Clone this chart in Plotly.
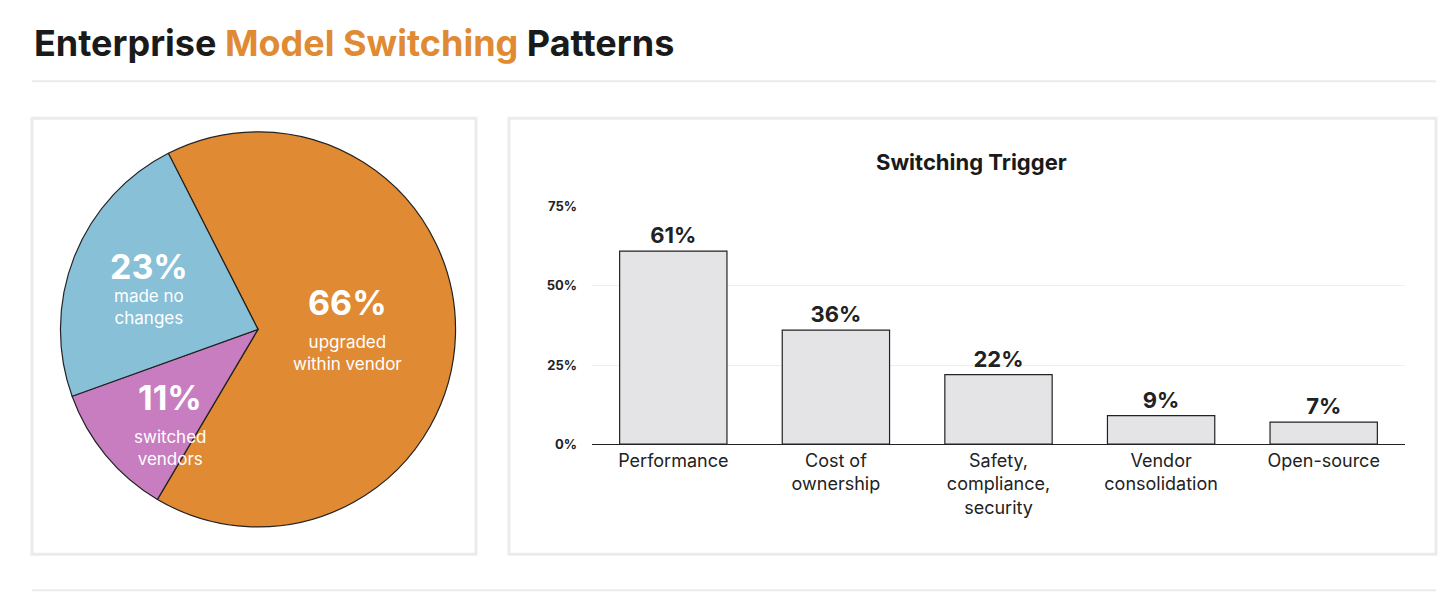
import plotly.graph_objects as go

W, H = 1440, 596
OFF = 8  # body margin of the page

pie_labels = ["upgraded<br>within vendor", "switched<br>vendors", "made no<br>changes"]
pie_values = [66, 11, 23]
pie_colors = ["#E08A33", "#C77DC0", "#88C0D8"]

bar_cats = ["Performance", "Cost of<br>ownership", "Safety,<br>compliance,<br>security",
            "Vendor<br>consolidation", "Open-source"]
bar_vals = [61, 36, 22, 9, 7]
y_ticks = [0, 25, 50, 75]


def px(x):
    return (x - OFF) / W


def py(y):
    return 1 - (y - OFF) / H


fig = go.Figure()

fig.add_trace(go.Pie(
    values=pie_values, labels=pie_labels, sort=False, direction="clockwise",
    rotation=-27, marker=dict(colors=pie_colors, line=dict(color="#222", width=1.2)),
    textinfo="none", hoverinfo="label+percent", showlegend=False,
    domain=dict(x=[px(60), px(456)], y=[py(533), py(127)]),
))

fig.add_trace(go.Bar(
    x=bar_cats, y=bar_vals, marker=dict(color="#E4E4E6", line=dict(color="#222", width=1.2)),
    text=[f"{v}%" for v in bar_vals], textposition="outside",
    textfont=dict(size=22, color="#222", family="Inter", weight="bold"),
    width=0.66, showlegend=False, cliponaxis=False,
))

# pie labels
pie_text = [(347, 302, 354, pie_values[0], pie_labels[0]),
            (170, 400, 452, pie_values[1], pie_labels[1]),
            (149, 265, 307, pie_values[2], pie_labels[2])]
for x, yb, ys, v, lab in pie_text:
    fig.add_annotation(x=px(x), y=py(yb), xref="paper", yref="paper", text=f"<b>{v}%</b>",
                       xanchor="center", yanchor="middle", showarrow=False,
                       font=dict(size=34, color="white", family="Inter"))
    fig.add_annotation(x=px(x), y=py(ys), xref="paper", yref="paper", text=lab,
                       xanchor="center", yanchor="middle", showarrow=False,
                       font=dict(size=17, color="white", family="Inter"))

fig.add_annotation(x=px(32), y=py(36), xref="paper", yref="paper", xanchor="left", yanchor="middle",
                   text="<b>Enterprise <span style='color:#E08A33'>Model Switching</span> Patterns</b>",
                   showarrow=False, font=dict(size=36, color="#1a1a1a", family="Inter"))
fig.add_annotation(x=px(972), y=py(158), xref="paper", yref="paper", xanchor="center", yanchor="middle",
                   text="<b>Switching Trigger</b>", showarrow=False,
                   font=dict(size=22, color="#1a1a1a", family="Inter"))

line = dict(color="#EBEBEB", width=2)
fig.add_shape(type="line", xref="paper", yref="paper", x0=px(32), x1=px(1436), y0=py(75), y1=py(75), line=line)
fig.add_shape(type="line", xref="paper", yref="paper", x0=px(32), x1=px(1436), y0=py(598), y1=py(598), line=line)
box = dict(color="#EBEBEB", width=3)
fig.add_shape(type="rect", xref="paper", yref="paper", x0=px(32), x1=px(476), y0=py(561), y1=py(113), line=box)
fig.add_shape(type="rect", xref="paper", yref="paper", x0=px(509), x1=px(1436), y0=py(561), y1=py(113), line=box)

fig.update_layout(
    width=W, height=H, margin=dict(l=0, r=0, t=0, b=0),
    paper_bgcolor="white", plot_bgcolor="white", font=dict(family="Inter", color="#222"),
    xaxis=dict(domain=[px(592), px(1405)], showline=True, linecolor="#222", linewidth=1.2,
               tickfont=dict(size=18), ticks=""),
    yaxis=dict(domain=[py(448), py(204)], range=[0, 75], tickvals=y_ticks,
               ticktext=[f"<b>{t}%</b>" for t in y_ticks], tickfont=dict(size=13),
               showgrid=True, gridcolor="#EEEEEE", zeroline=False, ticklabelstandoff=14),
)

fig.write_html("out.html")
